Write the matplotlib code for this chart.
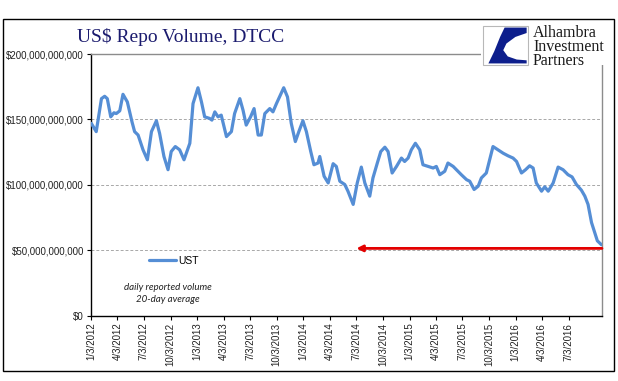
import matplotlib
matplotlib.use("Agg")
import matplotlib.pyplot as plt
from matplotlib.patches import Rectangle, Polygon
from matplotlib.ticker import FuncFormatter
import pandas as pd

# UST repo volume, 20-day average (billions USD)
dates = [
    "2012-01-04", "2012-01-21", "2012-02-08", "2012-02-19", "2012-02-28", "2012-03-11",
    "2012-03-22", "2012-03-30", "2012-04-11", "2012-04-22", "2012-05-07", "2012-05-23",
    "2012-06-01", "2012-06-13", "2012-06-30", "2012-07-15", "2012-07-29", "2012-08-15",
    "2012-08-26", "2012-09-10", "2012-09-24", "2012-10-05", "2012-10-19", "2012-11-03",
    "2012-11-18", "2012-12-08", "2012-12-19", "2013-01-05", "2013-01-17", "2013-01-28",
    "2013-02-14", "2013-02-22", "2013-03-04", "2013-03-15", "2013-03-26", "2013-04-13",
    "2013-04-30", "2013-05-11", "2013-05-29", "2013-06-09", "2013-06-20", "2013-07-05",
    "2013-07-17", "2013-07-31", "2013-08-11", "2013-08-23", "2013-09-09", "2013-09-20",
    "2013-10-02", "2013-10-27", "2013-11-09", "2013-11-22", "2013-12-06", "2013-12-18",
    "2014-01-01", "2014-01-13", "2014-01-28", "2014-02-08", "2014-02-22", "2014-02-28",
    "2014-03-15", "2014-03-29", "2014-04-15", "2014-04-26", "2014-05-08", "2014-05-25",
    "2014-06-05", "2014-06-23", "2014-07-07", "2014-07-21", "2014-08-02", "2014-08-19",
    "2014-08-30", "2014-09-14", "2014-09-26", "2014-10-10", "2014-10-21", "2014-11-04",
    "2014-11-19", "2014-12-06", "2014-12-17", "2014-12-29", "2015-01-09", "2015-01-23",
    "2015-02-07", "2015-02-18", "2015-03-08", "2015-03-25", "2015-04-05", "2015-04-17",
    "2015-05-04", "2015-05-15", "2015-06-02", "2015-06-13", "2015-06-30", "2015-07-18",
    "2015-07-29", "2015-08-13", "2015-08-27", "2015-09-07", "2015-09-24", "2015-10-17",
    "2015-11-03", "2015-11-21", "2015-12-08", "2015-12-25", "2016-01-06", "2016-01-23",
    "2016-02-06", "2016-02-20", "2016-03-03", "2016-03-14", "2016-04-01", "2016-04-12",
    "2016-04-24", "2016-05-11", "2016-05-28", "2016-06-14", "2016-07-01", "2016-07-15",
    "2016-07-30", "2016-08-16", "2016-08-28", "2016-09-08", "2016-09-20", "2016-10-01",
    "2016-10-10", "2016-10-24",
]
ust_bn = [
    147.0, 140.7, 165.9, 167.7, 165.9, 152.0,
    155.1, 154.5, 156.6, 169.2, 163.4, 148.2,
    140.7, 138.1, 126.8, 119.2, 140.7, 149.0,
    139.4, 121.7, 111.6, 125.5, 129.3, 126.8,
    119.2, 131.8, 162.1, 174.2, 163.4, 152.0,
    150.8, 149.5, 155.8, 152.0, 153.3, 136.9,
    140.7, 154.5, 165.9, 157.1, 145.7, 152.0,
    158.3, 138.1, 138.1, 154.5, 158.3, 155.8,
    162.1, 174.2, 167.2, 147.0, 133.1, 140.7,
    149.0, 140.7, 125.5, 115.4, 116.7, 121.7,
    106.6, 101.5, 116.2, 114.1, 102.8, 100.3,
    95.2, 85.1, 101.5, 113.6, 101.5, 91.4,
    105.3, 116.7, 125.5, 128.8, 125.5, 109.1,
    114.1, 120.5, 117.9, 120.5, 126.8, 131.8,
    126.8, 115.4, 114.1, 112.9, 114.1, 107.8,
    110.4, 116.7, 114.1, 111.6, 107.8, 104.0,
    102.8, 96.5, 99.0, 105.3, 109.1, 129.3,
    126.8, 124.2, 122.2, 120.5, 117.9, 109.1,
    111.6, 114.6, 112.9, 101.5, 95.2, 98.5,
    95.2, 101.5, 113.6, 111.6, 107.8, 106.1,
    100.3, 96.0, 91.4, 85.1, 71.2, 63.6,
    57.3, 54.3,
]
x_start, x_end = "2012-01-03", "2016-10-26"
tick_dates = pd.date_range("2012-01-01", "2016-07-01", freq="QS") + pd.Timedelta(days=2)
arrow_level_bn = 51.5
arrow_tip_date = "2014-07-04"

W, H = 618, 381
fig = plt.figure(figsize=(W / 100, H / 100), dpi=100)
ax = fig.add_axes([91 / W, 1 - 315.8 / H, (602 - 91) / W, (315.8 - 54) / H])

x = pd.to_datetime(dates)
y = [v * 1e9 for v in ust_bn]
ax.plot(x, y, color="#558ed5", lw=2.3, solid_capstyle="round", label="UST", zorder=3)

ax.set_xlim(pd.Timestamp(x_start), pd.Timestamp(x_end))
ax.set_ylim(0, 200e9)
ax.set_yticks([0, 50e9, 100e9, 150e9, 200e9])
ax.yaxis.set_major_formatter(FuncFormatter(lambda v, p: f"${v:,.0f}"))
ax.set_xticks(tick_dates)
ax.set_xticklabels([f"{d.month}/{d.day}/{d.year}" for d in tick_dates],
                   rotation=90, va="top", ha="center")
ax.tick_params(axis="both", labelsize=7, length=3, width=0.8, color="black", pad=2)
for lab in ax.get_xticklabels() + ax.get_yticklabels():
    lab.set_fontfamily("Liberation Sans")
    lab.set_color("#222222")

ax.grid(axis="y", color="#a8a8a8", lw=0.7, ls=(0, (3, 2)))
ax.set_axisbelow(True)
for side in ("left", "bottom"):
    ax.spines[side].set_color("black")
    ax.spines[side].set_linewidth(1)
for side in ("top", "right"):
    ax.spines[side].set_color("#8c8c8c")
    ax.spines[side].set_linewidth(1)

# legend and note
ax.legend(loc="upper left", bbox_to_anchor=(0.095, 0.265), frameon=False,
          handlelength=2.6, handletextpad=0.2,
          prop={"family": "Liberation Sans", "size": 7.5})
ax.text(0.15, 0.085, "daily reported volume\n20-day average", transform=ax.transAxes,
        ha="center", va="center", fontsize=7, style="italic", family="Lato",
        color="#222222", linespacing=1.35)

# red arrow
ax.annotate("", xy=(pd.Timestamp(arrow_tip_date), arrow_level_bn * 1e9),
            xytext=(pd.Timestamp(x_end), arrow_level_bn * 1e9),
            arrowprops=dict(arrowstyle="-|>", color="#e30000", lw=2,
                            mutation_scale=9, shrinkA=0, shrinkB=0),
            annotation_clip=False, zorder=4)

# title
fig.text(77 / W, 1 - 42 / H, "US$ Repo Volume, DTCC", fontsize=14,
         family="Liberation Serif", color="#1b1b6e", va="baseline", ha="left")

# logo
fig.patches.append(Rectangle((481 / W, 1 - 65 / H), 133 / W, 44 / H,
                             transform=fig.transFigure, facecolor="white",
                             edgecolor="none", zorder=5))
bx0, by0, bw, bh = 483 / W, 1 - 65 / H, 45 / W, 39 / H
fig.patches.append(Rectangle((bx0, by0), bw, bh, transform=fig.transFigure,
                             facecolor="white", edgecolor="#b8b8b8", lw=0.8, zorder=6))
swoosh = [(0.48, 0.96), (0.97, 0.96), (0.97, 0.82), (0.72, 0.72), (0.52, 0.55),
          (0.45, 0.38), (0.55, 0.22), (0.75, 0.14), (0.97, 0.12), (0.97, 0.04),
          (0.12, 0.04), (0.25, 0.35), (0.38, 0.72)]
fig.patches.append(Polygon([(bx0 + u * bw, by0 + v * bh) for u, v in swoosh],
                           closed=True, transform=fig.transFigure,
                           facecolor="#0d1e8c", edgecolor="none", zorder=7))
fig.text(533 / W, 1 - 25 / H, "Alhambra\nInvestment\nPartners", fontsize=11.5,
         family="Liberation Serif", color="#1a1a1a", va="top", ha="left",
         linespacing=0.85, zorder=8)

# outer frame
fig.patches.append(Rectangle((3 / W, 1 - 371 / H), 611 / W, 352 / H,
                             transform=fig.transFigure, facecolor="none",
                             edgecolor="black", lw=1, zorder=10))

fig.savefig("out.png", dpi=100)
